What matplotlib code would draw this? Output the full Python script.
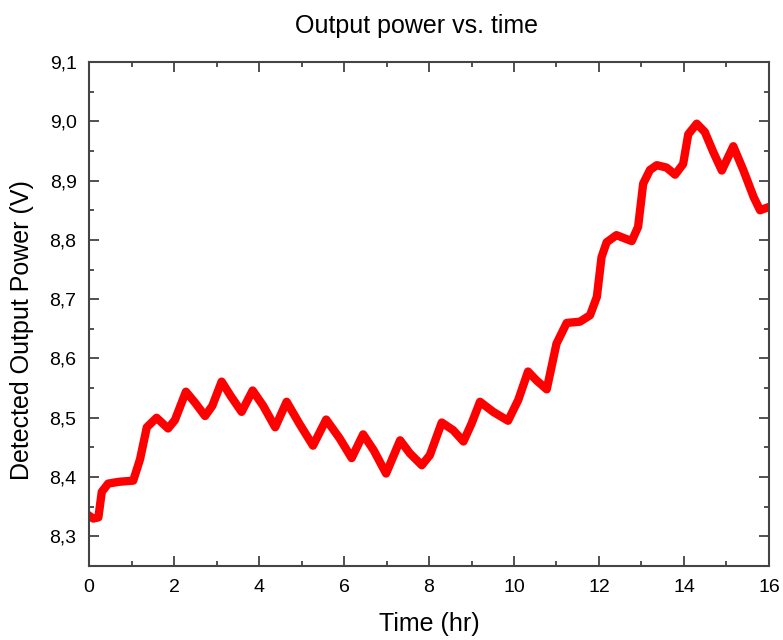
import matplotlib
matplotlib.use("Agg")
import matplotlib.pyplot as plt
from matplotlib.ticker import MultipleLocator, FuncFormatter

plt.rcParams['font.family'] = ['Liberation Sans', 'DejaVu Sans']

# values
time_hr = [0.0, 0.10, 0.22, 0.30, 0.45, 0.70, 1.04, 1.20, 1.36, 1.59, 1.86, 2.02,
           2.28, 2.50, 2.73, 2.90, 3.12, 3.35, 3.59, 3.85, 4.10, 4.38, 4.65, 4.95,
           5.27, 5.58, 5.90, 6.18, 6.45, 6.70, 6.99, 7.32, 7.55, 7.83, 8.02, 8.30,
           8.57, 8.81, 9.00, 9.20, 9.51, 9.86, 10.10, 10.33, 10.53, 10.77, 11.00,
           11.24, 11.55, 11.79, 11.95, 12.06, 12.18, 12.41, 12.77, 12.92, 13.04,
           13.20, 13.36, 13.59, 13.79, 13.98, 14.10, 14.30, 14.49, 14.69, 14.89,
           15.16, 15.40, 15.64, 15.79, 15.98]
power_v = [8.335, 8.330, 8.332, 8.375, 8.389, 8.392, 8.394, 8.430, 8.484, 8.500, 8.482, 8.496,
           8.544, 8.525, 8.503, 8.520, 8.561, 8.535, 8.510, 8.546, 8.520, 8.484, 8.527, 8.490,
           8.453, 8.497, 8.465, 8.432, 8.472, 8.445, 8.406, 8.462, 8.440, 8.420, 8.437, 8.492,
           8.479, 8.460, 8.490, 8.527, 8.510, 8.495, 8.530, 8.578, 8.563, 8.548, 8.625,
           8.660, 8.662, 8.673, 8.704, 8.771, 8.796, 8.808, 8.798, 8.822, 8.895,
           8.918, 8.926, 8.922, 8.910, 8.928, 8.978, 8.996, 8.982, 8.948, 8.917,
           8.958, 8.917, 8.872, 8.850, 8.855]

fig = plt.figure(figsize=(7.83, 6.40), dpi=100)
ax = fig.add_axes([0.1137, 0.1156, 0.8684, 0.7875])

ax.plot(time_hr, power_v, color='#ff0000', linewidth=6, solid_joinstyle='round')

ax.set_xlim(0, 16)
ax.set_ylim(8.25, 9.1)
ax.xaxis.set_major_locator(MultipleLocator(2))
ax.xaxis.set_minor_locator(MultipleLocator(1))
ax.yaxis.set_major_locator(MultipleLocator(0.1))
ax.yaxis.set_minor_locator(MultipleLocator(0.05))
ax.yaxis.set_major_formatter(FuncFormatter(lambda v, p: ('%.1f' % v).replace('.', ',')))

ax.tick_params(which='both', direction='in', top=True, right=True, colors='#333333',
               labelcolor='black', labelsize=14, width=1.2)
ax.tick_params(which='major', length=7, pad=9)
ax.tick_params(which='minor', length=3.5)
for s in ax.spines.values():
    s.set_color('#444444')
    s.set_linewidth(1.5)

ax.set_xlabel('Time (hr)', fontsize=18, labelpad=12)
ax.set_ylabel('Detected Output Power (V)', fontsize=18)
ax.yaxis.set_label_coords(-0.081, 0.468)
ax.set_title('Output power vs. time', fontsize=18, pad=21, x=0.481)

fig.savefig('out.png', dpi=100)
